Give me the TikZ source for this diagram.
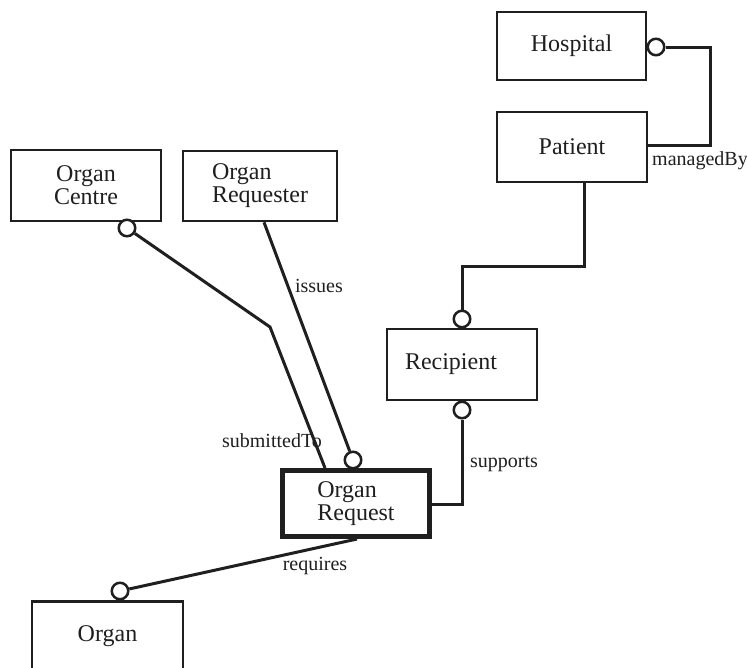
\documentclass[tikz,border=0pt]{standalone}
\usepackage{fontspec}
\setmainfont{Liberation Serif}
\begin{document}
\begin{tikzpicture}[x=1pt,y=-1pt,
  entity/.style={draw=black!88, line width=2.5pt, rectangle, inner sep=0pt,
    font=\fontsize{24}{23}\selectfont, text=black!88, align=center},
  focus/.style={entity, line width=5pt},
  ring/.style={draw=black!88, fill=white, circle, line width=2.5pt,
    minimum size=16.5pt, inner sep=0pt},
  link/.style={draw=black!88, line width=3pt},
  role/.style={font=\fontsize{20}{22}\selectfont, text=black!88, inner sep=0pt}]
\useasboundingbox (0,0) rectangle (747,667);
\clip (0,0) rectangle (747,667);
\fill[white] (0,0) rectangle (747,667);

% classes
\node[entity, minimum width=149pt, minimum height=68pt] (hosp) at (571.5,46) {Hospital};
\node[entity, minimum width=150pt, minimum height=70pt] (pat) at (572,147) {Patient};
\node[entity, minimum width=150pt, minimum height=71pt] (ocen) at (86,185.5) {Organ\\Centre};
\node[entity, minimum width=154pt, minimum height=70pt, align=left] (oreq) at (260,186) {Organ\\Requester};
\node[entity, minimum height=71pt, text width=114pt, inner xsep=18pt, align=left] (rec) at (462,364.5) {Recipient};
\node[focus, minimum width=147pt, minimum height=66pt, align=left] (req) at (356,503.5) {Organ\\Request};
\node[entity, minimum width=151pt, minimum height=70pt, anchor=north] (org) at (107.5,600) {Organ};

% optional-end rings
\node[ring] (hc) at (656,47) {};
\node[ring] (rt) at (462,319) {};
\node[ring] (rb) at (462,410) {};
\node[ring] (occ) at (127,228) {};
\node[ring] (rqc) at (353,460) {};
\node[ring] (orc) at (120,591) {};

% associations
\draw[link] (hc) -| (710,145) -- (pat.east |- 0,145);
\draw[link] ([xshift=12pt]pat.south) -- ++(0,83) -| (rt);
\draw[link] (rb) |- ([yshift=-0.5pt]req.east);
\draw[link] (occ) -- (270,327) -- ([xshift=-31pt]req.north);
\draw[link] ([xshift=4pt]oreq.south) -- (rqc);
\draw[link] ([xshift=1pt]req.south) -- (orc);

% role names
\node[role] (l1) at (700,161) {managedBy};
\node[role] (l2) at (319,286) {issues};
\node[role] (l3) at (272,441) {submittedTo};
\node[role] (l4) at (504,464) {supports};
\node[role] (l5) at (315,566) {requires};
\end{tikzpicture}
\end{document}
